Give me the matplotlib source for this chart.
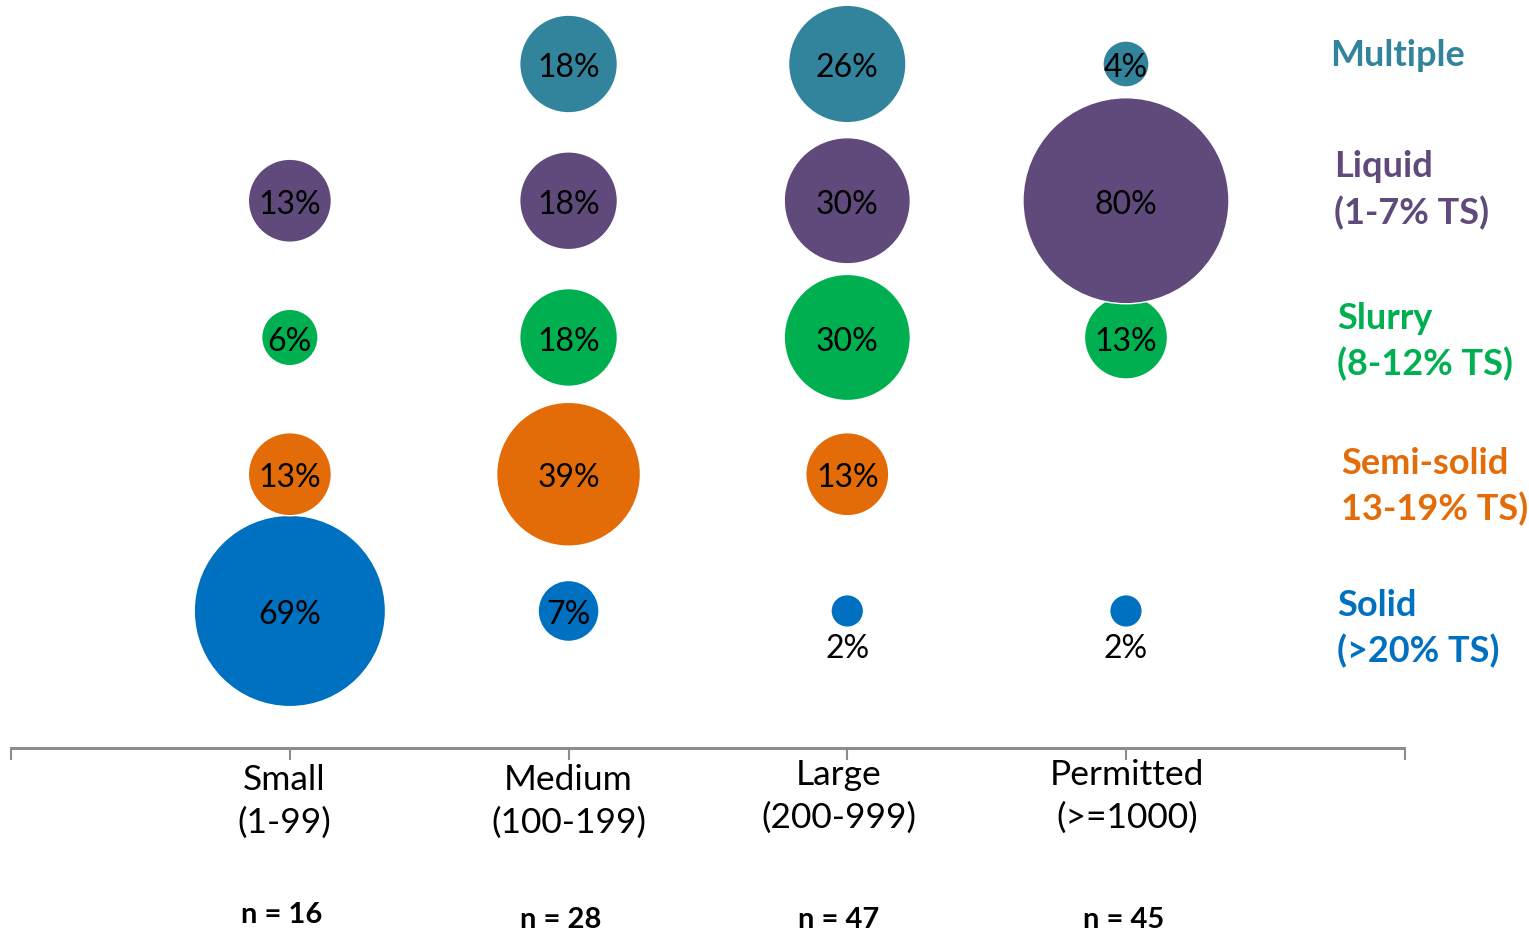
import numpy as np
import matplotlib.pyplot as plt

plt.rcParams['font.family'] = ['Lato', 'DejaVu Sans']

# farm size classes (columns)
sizes = ['Small\n(1-99)', 'Medium\n(100-199)', 'Large\n(200-999)', 'Permitted\n(>=1000)']
n_counts = ['n = 16', 'n = 28', 'n = 47', 'n = 45']

# manure types (rows, bottom to top)
types = ['Solid\n(>20% TS)', 'Semi-solid\n13-19% TS)', 'Slurry\n(8-12% TS)',
         'Liquid\n(1-7% TS)', 'Multiple']
colors = ['#0070C0', '#E36C09', '#00B050', '#604A7B', '#31849B']

# percent of farms in each class, one list per manure type (0 = no bubble)
solid = [69, 7, 2, 2]
semi_solid = [13, 39, 13, 0]
slurry = [6, 18, 30, 13]
liquid = [13, 18, 30, 80]
multiple = [0, 18, 26, 4]
values = [solid, semi_solid, slurry, liquid, multiple]

fig = plt.figure(figsize=(15.29, 9.33), dpi=100)
ax = fig.add_axes([0, 0, 1, 1])
ax.set_xlim(-1.04, 4.446)
ax.set_ylim(-2.355, 4.468)
ax.axis('off')

# bubble area proportional to percent
scale = 275.0
draw_order = [0, 1, 2, 4, 3]  # liquid drawn last so it sits over slurry
for r in draw_order:
    v = np.array(values[r], dtype=float)
    xs = np.arange(len(sizes))
    keep = v > 0
    ax.scatter(xs[keep], np.full(keep.sum(), r), s=v[keep] * scale,
               color=colors[r], edgecolors='white', linewidths=1, zorder=2 + r)
    for x, p in zip(xs[keep], v[keep]):
        if p < 3:
            ax.text(x, r - 0.28, f'{int(p)}%', ha='center', va='center',
                    fontsize=23, color='black', zorder=10)
        else:
            ax.text(x, r - 0.03, f'{int(p)}%', ha='center', va='center',
                    fontsize=23, color='black', zorder=10)

# right-hand type labels
label_x = [3.758, 3.772, 3.756, 3.748, 3.733]
label_y = [-0.13, -0.09, -0.03, 0.08, 0.06]
for r, t in enumerate(types):
    ax.text(label_x[r], r + label_y[r], t, ha='left', va='center', fontsize=26,
            fontweight='bold', color=colors[r], linespacing=1.44)

# bottom axis line with ticks
ax.plot([-1, 4], [-1, -1], color='#8c8c8c', lw=2.2, solid_capstyle='butt')
for x in range(-1, 5):
    ax.plot([x, x], [-1, -1.085], color='#8c8c8c', lw=1.5)

# size class labels and counts
lab_dx = [-0.02, 0.0, -0.03, 0.005]
lab_dy = [-1.39, -1.39, -1.355, -1.355]
for i, lab in enumerate(sizes):
    ax.text(i + lab_dx[i], lab_dy[i], lab, ha='center', va='center',
            fontsize=25.5, color='black', linespacing=1.41)
n_dy = [-2.22, -2.26, -2.26, -2.26]
for i, n in enumerate(n_counts):
    ax.text(i - 0.03 + (0.02 if i == 3 else 0), n_dy[i], n, ha='center', va='center',
            fontsize=21, fontweight='bold', color='black')

fig.savefig('out.png', dpi=100)
